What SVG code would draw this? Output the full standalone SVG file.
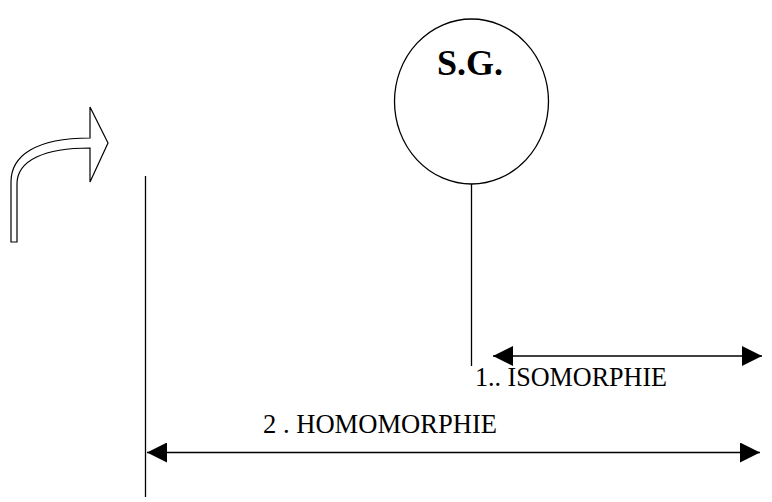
<svg xmlns="http://www.w3.org/2000/svg" width="772" height="502" viewBox="0 0 772 502">
<style>
.ln{stroke:#000;stroke-width:1.3;fill:none}
.lbl{font-family:"Liberation Serif","Times New Roman",serif;font-size:28px;fill:#000}
.title{font-family:"Liberation Serif","Times New Roman",serif;font-size:36px;font-weight:bold;fill:#000}
</style>
<defs>
<marker id="ah" markerUnits="userSpaceOnUse" markerWidth="20" markerHeight="20" refX="20" refY="10" orient="auto-start-reverse" viewBox="0 0 20 20">
<path d="M0,0 L20,10 L0,20 Z" fill="#000"/>
</marker>
</defs>
<rect width="772" height="502" fill="#fff"/>
<g id="curved-arrow">
<path d="M11,242 L11,182 C11,156 35,138 90,138 L90,107 L108,143 L90,182 L90,148 C45,148 17,160 17,184 L17,242 Z" fill="#fff" stroke="#000" stroke-width="1.2"/>
</g>
<g id="sg">
<ellipse cx="471.5" cy="101.5" rx="77" ry="82.5" fill="#fff" stroke="#000" stroke-width="1.3"/>
<text class="title" x="470" y="75" text-anchor="middle">S.G.</text>
</g>
<g id="isomorphie-label">
<text class="lbl" x="475" y="386" textLength="192" lengthAdjust="spacingAndGlyphs">1.. ISOMORPHIE</text>
</g>
<g id="homomorphie-label">
<text class="lbl" x="263" y="433" textLength="234" lengthAdjust="spacingAndGlyphs">2 . HOMOMORPHIE</text>
</g>
<g id="connectors">
<line class="ln" x1="145.5" y1="176" x2="145.5" y2="497"/>
<line class="ln" x1="471.5" y1="184" x2="471.5" y2="366"/>
<line class="ln" x1="493" y1="356" x2="762" y2="356" marker-start="url(#ah)" marker-end="url(#ah)"/>
<line class="ln" x1="147" y1="452.5" x2="760" y2="452.5" marker-start="url(#ah)" marker-end="url(#ah)"/>
</g>
</svg>
